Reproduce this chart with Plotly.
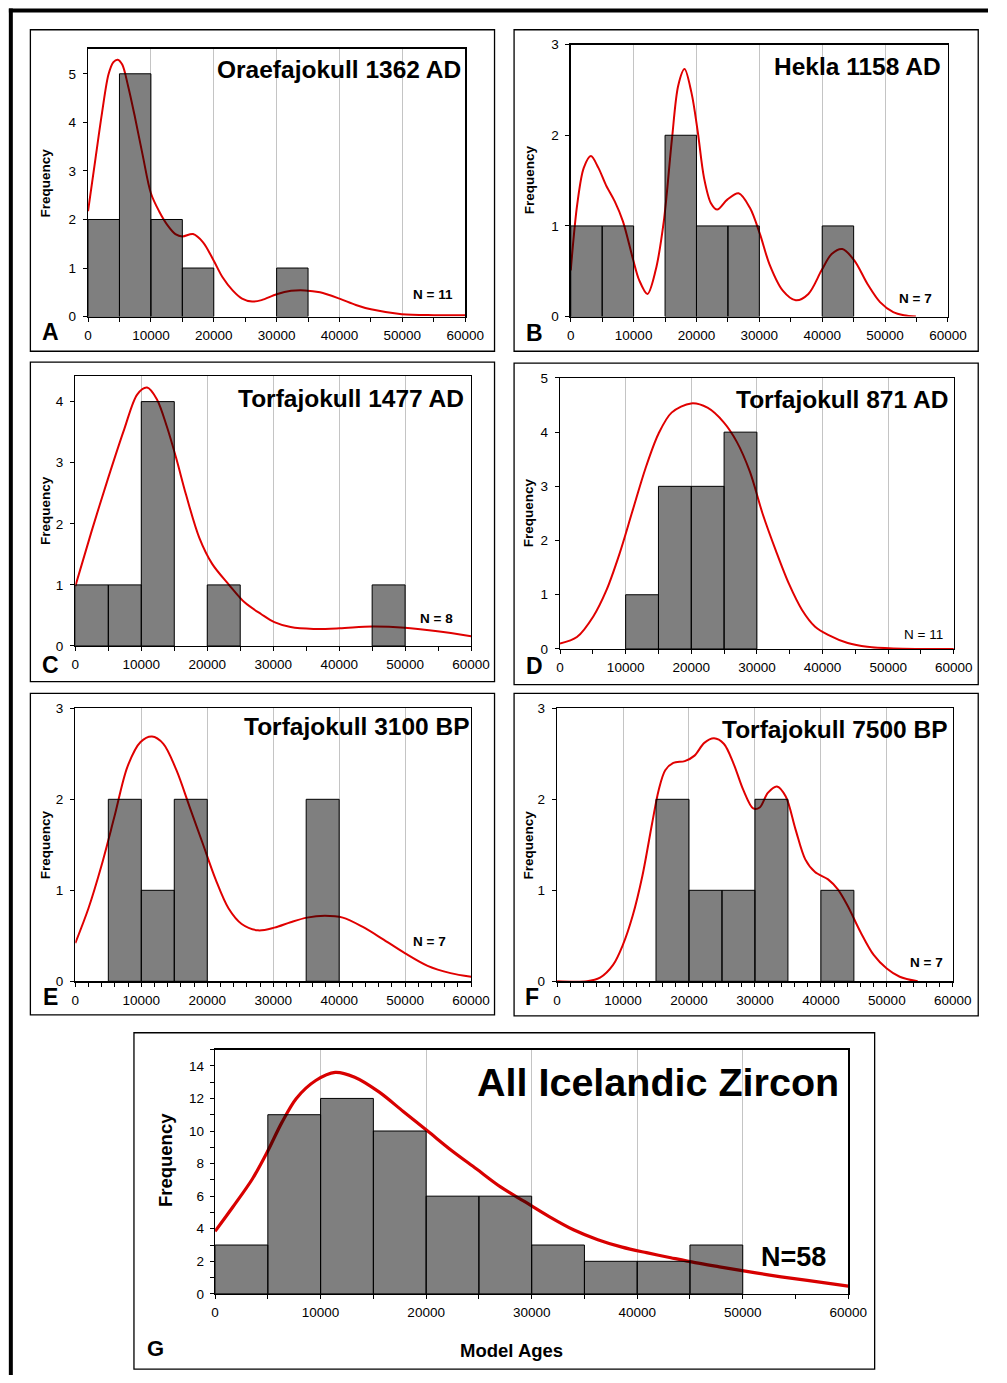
import plotly.graph_objects as go

# ---------------- data ----------------
bin_edges = [0, 5000, 10000, 15000, 20000, 25000, 30000, 35000, 40000, 45000, 50000, 55000, 60000]

counts_A = [2, 5, 2, 1, 0, 0, 1, 0, 0, 0, 0, 0]
counts_B = [1, 1, 0, 2, 1, 1, 0, 0, 1, 0, 0, 0]
counts_C = [1, 1, 4, 0, 1, 0, 0, 0, 0, 1, 0, 0]
counts_D = [0, 0, 1, 3, 3, 4, 0, 0, 0, 0, 0, 0]
counts_E = [0, 2, 1, 2, 0, 0, 0, 2, 0, 0, 0, 0]
counts_F = [0, 0, 0, 2, 1, 1, 2, 0, 1, 0, 0, 0]
counts_G = [3, 11, 12, 10, 6, 6, 3, 2, 2, 3, 0, 0]

# density curves (frequency scale)
kde_x_A = [0, 1190, 2230, 3260, 4040, 4715, 5440, 6370, 7410, 8700, 10000, 11300, 12600,
           13900, 15000, 16700, 18300, 20000, 21400, 23000, 24500, 26100, 27600, 30000,
           32300, 34500, 36900, 40000, 42600, 45000, 49900, 55000, 60000]
kde_y_A = [2.17, 3.26, 4.2, 4.99, 5.24, 5.29, 5.19, 4.75, 4.14, 3.32, 2.54, 2.17, 1.89,
           1.7, 1.65, 1.7, 1.53, 1.15, 0.81, 0.54, 0.37, 0.31, 0.34, 0.46,
           0.53, 0.54, 0.5, 0.37, 0.24, 0.15, 0.05, 0.03, 0.03]

kde_x_B = [0, 1036, 2070, 3200, 4400, 5600, 7000, 8300, 9840, 10900, 12200, 13500, 14800,
           16100, 17100, 18100, 19200, 20200, 21200, 22300, 23300, 24900, 26700, 28500,
           30100, 31600, 33700, 35800, 37800, 39900, 41500, 43200, 45100, 47200, 49200,
           51300, 53000, 54900]
kde_y_B = [0.51, 1.24, 1.64, 1.77, 1.64, 1.45, 1.27, 1.05, 0.65, 0.4, 0.25, 0.51, 1.05,
           1.96, 2.55, 2.73, 2.47, 2.04, 1.53, 1.25, 1.18, 1.29, 1.36, 1.2,
           0.91, 0.58, 0.29, 0.18, 0.25, 0.51, 0.69, 0.745, 0.62, 0.36, 0.16,
           0.05, 0.015, 0.0]

kde_x_C = [0, 2470, 4950, 7420, 9400, 10880, 12360, 13850, 15330, 16800, 18800, 20770,
           23240, 25700, 28200, 30170, 32640, 36100, 40060, 45000, 49950, 54900, 60000]
kde_y_C = [0.98, 1.88, 2.74, 3.55, 4.12, 4.23, 4.04, 3.6, 3.06, 2.47, 1.77, 1.34,
           1.01, 0.71, 0.52, 0.39, 0.31, 0.28, 0.29, 0.32, 0.3, 0.24, 0.16]

kde_x_D = [0, 2580, 5070, 7060, 9050, 11030, 13020, 15010, 17000, 19980, 22470, 24950,
           26940, 28930, 30910, 32900, 34890, 36880, 38870, 40850, 43840, 46820, 50800, 60000]
kde_y_D = [0.1, 0.22, 0.6, 1.08, 1.75, 2.54, 3.33, 3.97, 4.36, 4.53, 4.45, 4.18,
           3.82, 3.27, 2.48, 1.81, 1.2, 0.72, 0.41, 0.26, 0.11, 0.04, 0.01, 0.0]

kde_x_E = [0, 1980, 3960, 5930, 7910, 9890, 11620, 13350, 15330, 17310, 19290, 21270,
           23240, 25220, 27700, 30170, 32640, 35110, 37830, 40550, 43520, 46490, 49950,
           53410, 56880, 60000]
kde_y_E = [0.42, 0.8, 1.27, 1.81, 2.36, 2.63, 2.69, 2.61, 2.32, 1.92, 1.52, 1.12,
           0.8, 0.63, 0.56, 0.59, 0.65, 0.7, 0.72, 0.7, 0.6, 0.47, 0.31,
           0.17, 0.09, 0.05]

kde_x_F = [0, 4540, 6520, 8490, 9975, 11460, 12940, 14420, 15400, 16400, 17630, 19360,
           20840, 22320, 23800, 25280, 26770, 28250, 29730, 30720, 31950, 33330, 34670,
           36150, 37630, 39110, 41090, 42570, 44050, 46020, 48000, 49980, 51950, 54670]
kde_y_F = [0.0, 0.0, 0.04, 0.18, 0.4, 0.72, 1.16, 1.74, 2.1, 2.32, 2.4, 2.42,
           2.48, 2.62, 2.67, 2.61, 2.39, 2.1, 1.9, 1.91, 2.07, 2.14, 2.03,
           1.67, 1.34, 1.2, 1.12, 1.01, 0.83, 0.54, 0.29, 0.14, 0.05, 0.0]

kde_x_G = [0, 1700, 3550, 4930, 6310, 7700, 9540, 11380, 13230, 15530, 17830, 20140,
           22440, 24750, 27050, 29350, 31660, 33960, 36270, 38570, 40880, 43180, 45480,
           47790, 50090, 52400, 54700, 57470, 60000]
kde_y_G = [3.84, 5.35, 7.07, 8.69, 10.5, 12.0, 13.1, 13.6, 13.3, 12.4, 11.2, 10.0,
           8.79, 7.68, 6.57, 5.66, 4.75, 3.94, 3.33, 2.87, 2.53, 2.22, 1.92,
           1.66, 1.41, 1.17, 0.95, 0.71, 0.48]

titles = ["Oraefajokull 1362 AD", "Hekla 1158 AD", "Torfajokull 1477 AD", "Torfajokull 871 AD",
          "Torfajokull 3100 BP", "Torfajokull 7500 BP", "All Icelandic Zircon"]
n_labels = ["N = 11", "N = 7", "N = 8", "N = 11", "N = 7", "N = 7", "N=58"]
letters = ["A", "B", "C", "D", "E", "F", "G"]
x_ticks = [0, 10000, 20000, 30000, 40000, 50000, 60000]

counts = [counts_A, counts_B, counts_C, counts_D, counts_E, counts_F, counts_G]
curves = [(kde_x_A, kde_y_A), (kde_x_B, kde_y_B), (kde_x_C, kde_y_C), (kde_x_D, kde_y_D),
          (kde_x_E, kde_y_E), (kde_x_F, kde_y_F), (kde_x_G, kde_y_G)]

# ---------------- layout geometry (pixels) ----------------
W, H = 1007, 1383
FONT = "Liberation Sans, Arial, sans-serif"

panels = [
    # plot area (l, t, r, b), frame (l, t, r, b), y max, y dtick, x minor dtick
    dict(plot=(86, 42, 472, 313), frame=(27, 23, 502, 348), ymax=5.52, ydt=1, xminor=5000,
         title=(470, 63), nlab=(462, 291, True), letter=(48, 329), ytitle=(42.5, 178)),
    dict(plot=(580, 38, 966, 313), frame=(522, 23, 997, 348), ymax=3, ydt=1, xminor=5000,
         title=(961, 60), nlab=(952, 295, True), letter=(543, 329.5), ytitle=(537.5, 175)),
    dict(plot=(73, 373, 478, 646), frame=(27, 359, 502, 682), ymax=4.42, ydt=1, xminor=5000,
         title=(473, 395.5), nlab=(462, 618, True), letter=(48, 665.5), ytitle=(42.5, 509)),
    dict(plot=(569, 375, 972, 649), frame=(522, 360, 997, 685), ymax=5, ydt=1, xminor=5000,
         title=(968, 397), nlab=(963, 634, False), letter=(542.5, 666), ytitle=(537, 511)),
    dict(plot=(73, 709, 478, 985), frame=(27, 694, 502, 1019), ymax=3, ydt=1, xminor=2000,
         title=(479, 727.5), nlab=(454, 945, True), letter=(47.5, 1001), ytitle=(42.5, 847)),
    dict(plot=(566, 709, 971, 985), frame=(522, 694, 997, 1020), ymax=3, ydt=1, xminor=2000,
         title=(968, 730), nlab=(963, 966, True), letter=(540.5, 1001), ytitle=(537, 847)),
    dict(plot=(216, 1054, 864, 1301), frame=(133, 1037, 891, 1377), ymax=15, ydt=2, xminor=5000,
         title=(857, 1087), nlab=(843, 1264, True), letter=(155, 1356), ytitle=(166, 1165.5)),
]


def pxx(x):
    return x / W


def pyy(y):
    return 1 - y / H


fig = go.Figure()
layout = dict(
    width=W, height=H, autosize=False,
    margin=dict(l=0, r=0, t=0, b=0, pad=0),
    paper_bgcolor="white", plot_bgcolor="rgba(0,0,0,0)",
    showlegend=False, font=dict(family=FONT, color="black"),
    bargap=0,
)
annotations = []
shapes = []

centers = [(bin_edges[k] + bin_edges[k + 1]) / 2 for k in range(len(bin_edges) - 1)]

for i, p in enumerate(panels):
    n = i + 1
    big = (i == 6)
    l, t, r, b = p["plot"]
    sfx = "" if n == 1 else str(n)
    ov = str(n + 7)

    tickfont = dict(family=FONT, size=13.5, color="black")
    layout["xaxis" + sfx] = dict(
        domain=[pxx(l), pxx(r)], range=[0, 60000], anchor="y" + sfx,
        tickvals=x_ticks, tickformat="d", tickfont=tickfont,
        showgrid=True, gridcolor="#c4c4c4", gridwidth=1,
        showline=True, mirror=True, linecolor="black", linewidth=1.3,
        ticks="outside", ticklen=4, tickcolor="black", tickwidth=1,
        minor=dict(dtick=p["xminor"], tick0=0, ticks="outside", ticklen=4,
                   tickcolor="black", showgrid=False),
        zeroline=False, fixedrange=True, ticklabelstandoff=2,
    )
    yax = dict(
        domain=[pyy(b), pyy(t)], range=[0, p["ymax"]], anchor="x" + sfx,
        dtick=p["ydt"], tick0=0, tickfont=tickfont,
        showgrid=False, showline=True, mirror=True, linecolor="black", linewidth=1.3,
        ticks="outside", ticklen=4, tickcolor="black", tickwidth=1,
        zeroline=False, fixedrange=True, ticklabelstandoff=4 if not big else 3,
    )
    if big:
        yax["minor"] = dict(dtick=1, ticks="outside", ticklen=4, tickcolor="black")
    layout["yaxis" + sfx] = yax
    # overlay axis carrying the bars, so they sit above the curve
    layout["yaxis" + ov] = dict(
        overlaying="y" + sfx, range=[0, p["ymax"]], anchor="x" + sfx,
        visible=False, fixedrange=True,
    )

    cx, cy = curves[i]
    fig.add_trace(go.Scatter(
        x=cx, y=cy, mode="lines", xaxis="x" + sfx, yaxis="y" + sfx,
        line=dict(color="#e00000" if not big else "#d80000", width=2 if not big else 3.2,
                  shape="spline", smoothing=0.9),
        hoverinfo="skip",
    ))

    bx = [c for c, v in zip(centers, counts[i]) if v > 0]
    by = [v for v in counts[i] if v > 0]
    fig.add_trace(go.Bar(
        x=bx, y=by, width=5000, xaxis="x" + sfx, yaxis="y" + ov,
        marker=dict(color="rgba(0,0,0,0.5)", line=dict(color="black", width=1)),
        hoverinfo="skip",
    ))

    # panel frame
    fl, ft, fr, fb = p["frame"]
    shapes.append(dict(type="rect", xref="paper", yref="paper",
                       x0=pxx(fl), x1=pxx(fr), y0=pyy(fb), y1=pyy(ft),
                       line=dict(color="black", width=1.3), fillcolor="rgba(0,0,0,0)",
                       layer="below"))

    # title
    tx, ty = p["title"]
    annotations.append(dict(
        text="<b>%s</b>" % titles[i], x=pxx(tx), y=pyy(ty), xref="paper", yref="paper",
        xanchor="right", yanchor="middle", showarrow=False,
        font=dict(family=FONT, size=24.5 if not big else 39.5, color="black")))

    # sample size
    nx, ny, nbold = p["nlab"]
    annotations.append(dict(
        text=("<b>%s</b>" % n_labels[i]) if nbold else n_labels[i],
        x=pxx(nx), y=pyy(ny), xref="paper", yref="paper",
        xanchor="right", yanchor="middle", showarrow=False,
        font=dict(family=FONT, size=13.5 if not big else 27, color="black")))

    # panel letter
    lx, ly = p["letter"]
    annotations.append(dict(
        text="<b>%s</b>" % letters[i], x=pxx(lx), y=pyy(ly), xref="paper", yref="paper",
        xanchor="center", yanchor="middle", showarrow=False, borderpad=0,
        font=dict(family=FONT, size=23 if not big else 22, color="black")))

    # y-axis title
    yx, yy = p["ytitle"]
    annotations.append(dict(
        text="<b>Frequency</b>", x=pxx(yx), y=pyy(yy), xref="paper", yref="paper",
        xanchor="center", yanchor="middle", showarrow=False, textangle=-90,
        font=dict(family=FONT, size=13.5 if not big else 18.5, color="black")))

# x-axis title of the combined panel
annotations.append(dict(
    text="<b>Model Ages</b>", x=pxx(519), y=pyy(1358), xref="paper", yref="paper",
    xanchor="center", yanchor="middle", showarrow=False,
    font=dict(family=FONT, size=18.5, color="black")))

# heavy outer border (top and left)
shapes.append(dict(type="line", xref="paper", yref="paper",
                   x0=pxx(5), x1=1, y0=pyy(3.5), y1=pyy(3.5),
                   line=dict(color="black", width=4)))
shapes.append(dict(type="line", xref="paper", yref="paper",
                   x0=pxx(7), x1=pxx(7), y0=pyy(1.5), y1=0,
                   line=dict(color="black", width=4)))

layout["annotations"] = annotations
layout["shapes"] = shapes
fig.update_layout(**layout)

fig.write_html("out.html", config=dict(displayModeBar=False, staticPlot=True))
